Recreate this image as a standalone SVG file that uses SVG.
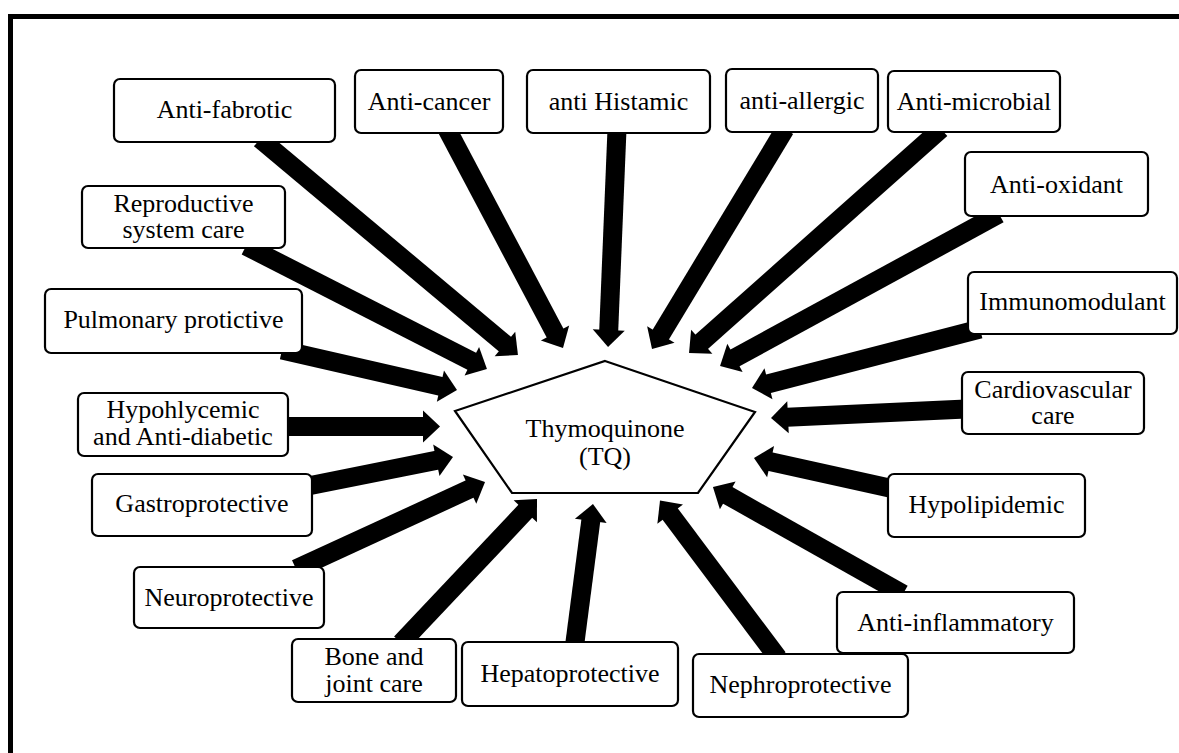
<svg xmlns="http://www.w3.org/2000/svg" width="1179" height="753" viewBox="0 0 1179 753">
<defs>
<style>
.box{fill:#fff;stroke:#000;stroke-width:2.2}
.lbl{font-family:"Liberation Serif","Times New Roman",serif;font-size:26px;fill:#000;text-anchor:middle}
.arr{stroke:#000;stroke-width:19;fill:none;marker-end:url(#head)}
</style>
<marker id="head" markerUnits="userSpaceOnUse" markerWidth="17" markerHeight="32" viewBox="0 0 17 32" refX="1" refY="16" orient="auto" overflow="visible">
<path d="M0,0 L17,16 L0,32 Z" fill="#000"/>
</marker>
</defs>
<rect width="1179" height="753" fill="#fff"/>
<path d="M10.5,753 V16.5 H1179" fill="none" stroke="#000" stroke-width="5"/>

<g id="connectors">
<line class="arr" x1="260" y1="139" x2="505.7" y2="344.7"/>
<line class="arr" x1="246" y1="246" x2="472.7" y2="361.7"/>
<line class="arr" x1="282" y1="350" x2="441.4" y2="386.4"/>
<line class="arr" x1="284" y1="426.5" x2="424" y2="426.5"/>
<line class="arr" x1="308" y1="486" x2="437.3" y2="460.1"/>
<line class="arr" x1="296" y1="569" x2="470.5" y2="488.7"/>
<line class="arr" x1="401" y1="643" x2="526" y2="510.6"/>
<line class="arr" x1="574.5" y1="646" x2="590.9" y2="519.9"/>
<line class="arr" x1="778" y1="658" x2="669.6" y2="513.3"/>
<line class="arr" x1="903" y1="594" x2="726.9" y2="494.9"/>
<line class="arr" x1="894" y1="489" x2="769.6" y2="461.4"/>
<line class="arr" x1="966" y1="409" x2="787" y2="417.3"/>
<line class="arr" x1="980" y1="329" x2="767.5" y2="384"/>
<line class="arr" x1="999" y1="214" x2="734.1" y2="358.4"/>
<line class="arr" x1="941" y1="129" x2="701" y2="342.4"/>
<line class="arr" x1="785" y1="129" x2="660.3" y2="335.3"/>
<line class="arr" x1="617" y1="129" x2="608.7" y2="331"/>
<line class="arr" x1="447" y1="129" x2="555.5" y2="333.9"/>
</g>

<g id="center">
<polygon points="605,361 755,412 698,493 512,493 455,411" fill="#fff" stroke="#000" stroke-width="2.2"/>
<text class="lbl" x="605" y="437">Thymoquinone</text>
<text class="lbl" x="605" y="465">(TQ)</text>
</g>

<g id="n-antifabrotic"><rect class="box" x="114" y="79" width="221" height="63" rx="6"/><text class="lbl" x="224.5" y="118">Anti-fabrotic</text></g>
<g id="n-anticancer"><rect class="box" x="355" y="70" width="148" height="63" rx="6"/><text class="lbl" x="429" y="110">Anti-cancer</text></g>
<g id="n-antihistamic"><rect class="box" x="527" y="70" width="183" height="63" rx="6"/><text class="lbl" x="618.5" y="110">anti Histamic</text></g>
<g id="n-antiallergic"><rect class="box" x="726" y="69" width="152" height="63" rx="6"/><text class="lbl" x="802" y="109">anti-allergic</text></g>
<g id="n-antimicrobial"><rect class="box" x="888" y="71" width="172" height="61" rx="6"/><text class="lbl" x="974" y="110">Anti-microbial</text></g>
<g id="n-antioxidant"><rect class="box" x="965" y="152" width="183" height="64" rx="6"/><text class="lbl" x="1056.5" y="193">Anti-oxidant</text></g>
<g id="n-reproductive"><rect class="box" x="82" y="186" width="203" height="62" rx="6"/><text class="lbl" x="183.5" y="212">Reproductive</text><text class="lbl" x="183.5" y="238">system care</text></g>
<g id="n-pulmonary"><rect class="box" x="45" y="289" width="257" height="64" rx="6"/><text class="lbl" x="173.5" y="328">Pulmonary protictive</text></g>
<g id="n-immuno"><rect class="box" x="968" y="272" width="209" height="62" rx="6"/><text class="lbl" x="1072.5" y="310">Immunomodulant</text></g>
<g id="n-hypoglycemic"><rect class="box" x="78" y="393" width="210" height="63" rx="6"/><text class="lbl" x="183" y="418">Hypohlycemic</text><text class="lbl" x="183" y="445">and Anti-diabetic</text></g>
<g id="n-cardio"><rect class="box" x="962" y="372" width="182" height="62" rx="6"/><text class="lbl" x="1053" y="398">Cardiovascular</text><text class="lbl" x="1053" y="424">care</text></g>
<g id="n-gastro"><rect class="box" x="92" y="474" width="220" height="62" rx="6"/><text class="lbl" x="202" y="512">Gastroprotective</text></g>
<g id="n-hypolipidemic"><rect class="box" x="888" y="474" width="197" height="63" rx="6"/><text class="lbl" x="986.5" y="513">Hypolipidemic</text></g>
<g id="n-neuro"><rect class="box" x="134" y="567" width="190" height="61" rx="6"/><text class="lbl" x="229" y="606">Neuroprotective</text></g>
<g id="n-antiinflam"><rect class="box" x="837" y="592" width="237" height="61" rx="6"/><text class="lbl" x="955.5" y="631">Anti-inflammatory</text></g>
<g id="n-bone"><rect class="box" x="292" y="639" width="164" height="63" rx="6"/><text class="lbl" x="374" y="665">Bone and</text><text class="lbl" x="374" y="692">joint care</text></g>
<g id="n-hepato"><rect class="box" x="462" y="642" width="216" height="64" rx="6"/><text class="lbl" x="570" y="682">Hepatoprotective</text></g>
<g id="n-nephro"><rect class="box" x="693" y="654" width="215" height="63" rx="6"/><text class="lbl" x="800.5" y="693">Nephroprotective</text></g>
</svg>
